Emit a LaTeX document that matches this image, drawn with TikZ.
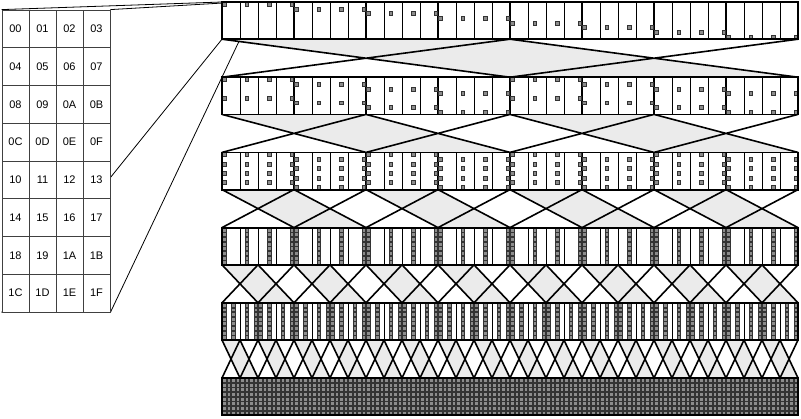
\documentclass[tikz,border=0pt]{standalone}
\usepackage{fontspec}
\setmainfont{Liberation Sans}
\usetikzlibrary{positioning}
\pgfdeclarelayer{back}
\pgfsetlayers{back,main}

\begin{document}
\begin{tikzpicture}[
  x=1pt, y=-1pt,
  idxcell/.style={draw=black!75, fill=white, line width=0.8pt, minimum width=27pt, minimum height=37.75pt, inner sep=0pt, font=\fontsize{11}{13}\selectfont},
  zoomline/.style={line width=0.8pt},
  slot/.style={draw=black!80, fill=black!45, line width=0.6pt},
  cellline/.style={line width=1pt},
  groupline/.style={line width=1.6pt},
  rowframe/.style={line width=1.8pt},
  wing/.style={line width=1.6pt, line cap=round},
  band/.style={fill=black!8}
]
\useasboundingbox (0,0) rectangle (801,418);

% index grid on the left
\foreach \lab [count=\n from 0] in {00,01,02,03,04,05,06,07,08,09,0A,0B,0C,0D,0E,0F,10,11,12,13,14,15,16,17,18,19,1A,1B,1C,1D,1E,1F} {
  \pgfmathtruncatemacro\col{mod(\n,4)}
  \pgfmathtruncatemacro\rw{int(\n/4)}
  \node[idxcell] (g\n) at ({15.5+27*\col},{10+37.75*(\rw+0.5)}) {\lab};
}

% corners of the first block in the top row
\coordinate (zoomnw) at (222,2);
\coordinate (zoomne) at (240,2);
\coordinate (zoomsw) at (222,39.2);
\coordinate (zoomse) at (240,39.2);
\begin{pgfonlayer}{back}
\draw[zoomline] (g0.north west) -- (zoomnw);
\draw[zoomline] (g3.north east) -- (zoomne);
\draw[zoomline] (g28.south west) -- (zoomsw);
\draw[zoomline] (g31.south east) -- (zoomse);
\end{pgfonlayer}

% butterflies between the rows
\foreach \k in {0,...,4} {
  \pgfmathsetmacro\yt{39.2+75.2*\k}
  \pgfmathsetmacro\yb{77.2+75.2*\k}
  \pgfmathtruncatemacro\nb{2^\k-1}
  \pgfmathsetmacro\bw{18*2^(4-\k)}
  \foreach \b in {0,...,\nb} {
    \pgfmathsetmacro\xa{222+2*\bw*\b}
    \pgfmathsetmacro\xm{\xa+\bw}
    \pgfmathsetmacro\xe{\xa+2*\bw}
    \fill[band] (\xa,\yt) -- (\xm,\yt) -- (\xe,\yb) -- (\xm,\yb) -- cycle;
    \draw[wing] (\xa,\yt) -- (\xm,\yb) (\xm,\yt) -- (\xa,\yb)
                (\xm,\yt) -- (\xe,\yb) (\xe,\yt) -- (\xm,\yb);
  }
}

% rows of 32 blocks
\foreach \k in {0,...,5} {
  \pgfmathsetmacro\ry{2+75.2*\k}
  \pgfmathtruncatemacro\per{2^(5-\k)}
  \pgfmathtruncatemacro\cnt{2^\k-1}
  \fill[white] (222,\ry) rectangle ++(576,37.2);
  \foreach \j in {1,...,31} {
    \draw[cellline] ({222+18*\j},\ry) -- ++(0,37.2);
  }
  \foreach \j in {4,8,...,28} {
    \draw[groupline] ({222+18*\j},\ry) -- ++(0,37.2);
  }
  \foreach \i in {0,...,31} {
    \foreach \m in {0,...,\cnt} {
      \pgfmathtruncatemacro\p{mod(\i,\per)+\per*\m}
      \pgfmathsetmacro\sx{222+18*\i+4.5*mod(\p,4)+0.35}
      \pgfmathsetmacro\sy{\ry+4.65*int(\p/4)+0.35}
      \draw[slot] (\sx,\sy) rectangle ++(3.8,3.95);
    }
  }
  \draw[rowframe] (222,\ry) rectangle ++(576,37.2);
}
\end{tikzpicture}
\end{document}
